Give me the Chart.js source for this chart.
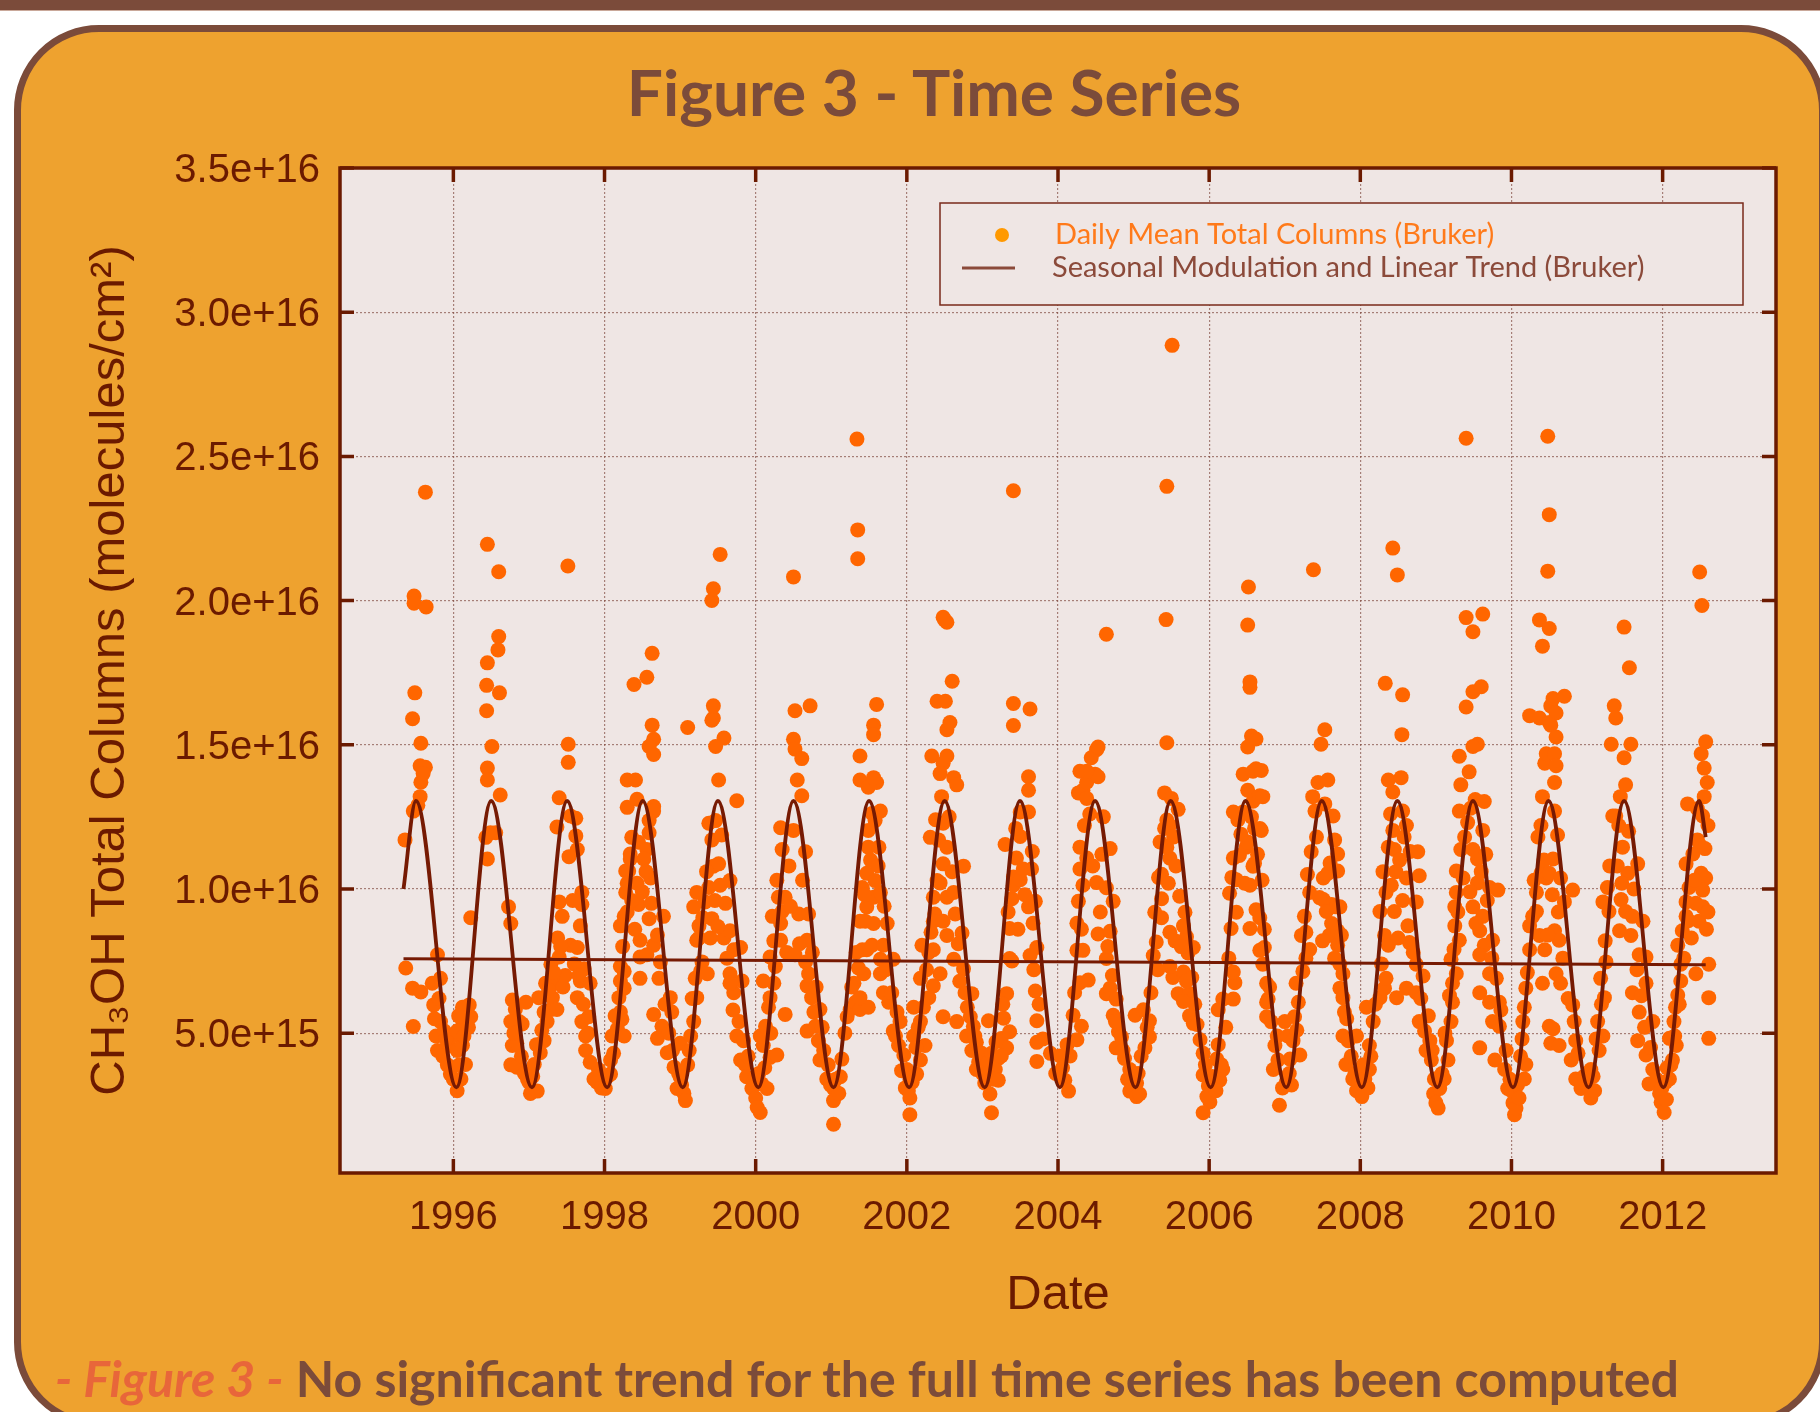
<!DOCTYPE html>
<html>
<head>
<meta charset="utf-8">
<script src="https://cdn.jsdelivr.net/npm/chart.js@4.4.0/dist/chart.umd.min.js"></script>
<style>
  html, body { margin: 0; padding: 0; width: 1820px; height: 1412px; overflow: hidden; background: #ffffff; }
  #topbar { position: absolute; left: 0; top: 0; width: 1820px; height: 10px; background: #7b4b3a; border-bottom: 1px solid #c9a89a; }
  #panel { position: absolute; left: 14px; top: 25px; width: 1812px; height: 1402px; box-sizing: border-box;
           border: 7px solid #7b4b3a; border-radius: 85px; background: #eea22f; }
  #title { position: absolute; left: 0; top: 58px; width: 1868px; text-align: center; font-family: 'Lato', sans-serif;
           font-weight: bold; font-size: 64px; line-height: 68px; color: #7b4b3a; }
  #chart { position: absolute; left: 0; top: 0; }
  #caption { position: absolute; left: 55px; top: 1350px; white-space: nowrap; font-family: 'Lato', sans-serif;
             font-weight: bold; font-size: 50px; line-height: 56px; color: #7b4b3a; }
  #caption .fig { color: #e8663a; font-style: italic; }
</style>
</head>
<body>
<div id="topbar"></div>
<div id="panel"></div>
<div id="title">Figure 3 - Time Series</div>
<canvas id="chart" width="1820" height="1412"></canvas>
<div id="caption"><span class="fig">- Figure 3 -</span> No significant trend for the full time series has been computed</div>
<script>
// daily means, [decimal year, total column in 1e15 molecules/cm2]
const season1995 = [[1995.36,11.7],[1995.37,7.26],[1995.46,6.56],[1995.57,6.43],[1995.47,5.23],[1995.63,23.76],[1995.48,20.16],[1995.48,19.91],[1995.64,19.78],[1995.49,16.8],[1995.46,15.9],[1995.57,15.05],[1995.56,14.27],[1995.63,14.22],[1995.57,13.7],[1995.56,13.2],[1995.47,12.7],[1995.53,12.9],[1995.6,14.0],[1995.79,7.72],[1995.72,6.73],[1995.83,6.9],[1995.74,5.98],[1995.83,5.4],[1995.77,4.9],[1995.79,4.4],[1995.88,5.07],[1995.94,4.57],[1995.92,3.9],[1995.96,3.58],[1995.99,4.9],[1995.75,5.5],[1995.81,6.2],[1995.86,4.2],[1995.9,4.8]];
const season1996 = [[1996.05,3.0],[1996.1,3.41],[1996.16,3.91],[1996.12,5.9],[1996.21,5.98],[1996.23,5.57],[1996.12,5.24],[1996.18,5.4],[1996.05,5.07],[1996.05,4.4],[1996.12,4.57],[1996.23,9.0],[1996.45,21.95],[1996.6,21.0],[1996.6,18.75],[1996.59,18.29],[1996.45,17.84],[1996.44,17.06],[1996.61,16.8],[1996.44,16.18],[1996.51,14.94],[1996.45,14.19],[1996.45,13.78],[1996.62,13.26],[1996.49,11.95],[1996.43,11.79],[1996.56,11.95],[1996.45,11.04],[1996.73,9.38],[1996.76,8.8],[1996.78,6.15],[1996.82,5.82],[1996.96,6.07],[1996.87,5.4],[1996.76,5.4],[1996.91,5.32],[1996.78,4.57],[1996.84,4.65],[1996.76,3.9],[1996.84,3.82],[1996.98,3.41],[1996.0,3.4],[1996.08,3.9],[1996.14,4.9],[1996.2,5.2],[1996.07,5.6],[1996.8,5.0],[1996.9,4.2],[1996.94,3.6]];
const season1997 = [[1997.02,2.91],[1997.11,2.99],[1997.07,3.91],[1997.15,4.32],[1997.2,4.74],[1997.13,6.23],[1997.2,5.73],[1997.29,5.82],[1997.24,5.4],[1997.22,6.73],[1997.515,21.2],[1997.52,15.02],[1997.52,14.39],[1997.4,13.16],[1997.37,12.15],[1997.55,12.53],[1997.62,12.45],[1997.62,11.84],[1997.64,11.37],[1997.53,11.12],[1997.4,9.55],[1997.44,9.05],[1997.29,7.39],[1997.4,7.64],[1997.35,6.73],[1997.31,6.23],[1997.37,5.82],[1997.45,6.6],[1997.48,7.0],[1997.55,8.05],[1997.64,7.97],[1997.7,9.88],[1997.7,9.46],[1997.68,8.72],[1997.73,7.23],[1997.68,6.81],[1997.81,6.73],[1997.64,6.23],[1997.7,5.4],[1997.79,5.57],[1997.75,4.9],[1997.75,4.4],[1997.81,3.99],[1997.86,3.41],[1997.92,3.74],[1997.0,3.3],[1997.05,3.5],[1997.1,4.6],[1997.17,5.1],[1997.26,6.5],[1997.33,7.1],[1997.38,8.3],[1997.42,8.0],[1997.58,9.6],[1997.6,7.4],[1997.66,7.0],[1997.72,6.0],[1997.78,5.0],[1997.9,3.3],[1997.96,3.1]];
const season1998 = [[1998.01,3.08],[1998.08,3.58],[1998.08,4.07],[1998.1,4.9],[1998.17,5.15],[1998.21,5.73],[1998.19,6.23],[1998.26,7.14],[1998.21,8.72],[1998.26,9.05],[1998.28,9.88],[1998.28,10.62],[1998.34,11.21],[1998.32,10.62],[1998.39,17.09],[1998.56,17.34],[1998.63,18.17],[1998.63,15.68],[1998.65,15.19],[1998.59,14.94],[1998.65,14.66],[1998.3,13.78],[1998.41,13.78],[1998.3,12.83],[1998.43,13.11],[1998.65,12.86],[1998.65,12.7],[1998.59,12.37],[1998.59,11.95],[1998.36,11.79],[1998.45,11.62],[1998.56,11.37],[1998.34,11.04],[1998.52,11.04],[1998.3,10.2],[1998.43,10.2],[1998.61,10.38],[1998.45,9.46],[1998.59,8.97],[1998.78,9.05],[1998.47,8.22],[1998.65,8.05],[1998.47,7.64],[1998.56,7.72],[1998.74,7.47],[1998.47,6.9],[1998.21,7.31],[1998.21,6.81],[1998.26,6.56],[1998.26,4.9],[1998.23,5.48],[1998.65,5.65],[1998.7,4.82],[1998.76,5.24],[1998.87,6.23],[1998.89,5.73],[1998.83,4.32],[1998.92,3.82],[1998.96,3.08],[1998.04,3.5],[1998.12,4.3],[1998.14,5.6],[1998.24,8.0],[1998.3,9.2],[1998.36,9.6],[1998.4,8.6],[1998.5,9.9],[1998.55,10.6],[1998.62,9.5],[1998.7,8.4],[1998.72,6.9],[1998.8,6.0],[1998.85,5.0],[1998.9,4.4],[1998.98,3.6]];
const season1999 = [[1999.05,2.91],[1999.0,3.49],[1999.0,4.65],[1999.07,2.66],[1999.14,4.9],[1999.18,5.4],[1999.1,15.6],[1999.22,6.23],[1999.2,6.9],[1999.27,7.14],[1999.22,8.22],[1999.25,8.72],[1999.18,9.38],[1999.22,9.88],[1999.42,20.0],[1999.44,20.41],[1999.53,21.6],[1999.44,16.35],[1999.44,15.93],[1999.42,15.85],[1999.58,15.23],[1999.47,14.94],[1999.51,13.78],[1999.75,13.06],[1999.38,12.28],[1999.47,12.37],[1999.42,11.7],[1999.55,11.87],[1999.44,10.79],[1999.51,10.87],[1999.38,10.05],[1999.53,10.13],[1999.66,10.29],[1999.33,9.55],[1999.42,8.97],[1999.25,8.3],[1999.4,8.3],[1999.58,8.3],[1999.66,8.55],[1999.71,7.89],[1999.8,7.97],[1999.29,7.47],[1999.36,7.06],[1999.66,7.06],[1999.71,6.4],[1999.66,6.73],[1999.82,6.81],[1999.75,4.9],[1999.84,4.74],[1999.8,4.07],[1999.86,3.91],[1999.88,3.49],[1999.95,3.08],[1999.02,3.2],[1999.1,3.9],[1999.12,4.4],[1999.16,6.2],[1999.3,9.0],[1999.35,10.6],[1999.46,9.6],[1999.5,8.7],[1999.6,9.5],[1999.62,7.6],[1999.7,5.8],[1999.78,5.4],[1999.9,4.2],[1999.98,3.4]];
const season2000 = [[2000.0,2.75],[2000.06,2.25],[2000.02,2.42],[2000.08,3.24],[2000.15,3.08],[2000.19,4.16],[2000.1,4.57],[2000.28,4.24],[2000.06,4.9],[2000.13,5.24],[2000.17,5.9],[2000.19,6.23],[2000.24,6.73],[2000.1,6.81],[2000.39,5.65],[2000.19,7.64],[2000.26,7.31],[2000.22,9.05],[2000.3,9.71],[2000.33,8.8],[2000.35,9.22],[2000.39,9.71],[2000.33,8.22],[2000.41,7.8],[2000.33,12.12],[2000.35,11.37],[2000.5,20.82],[2000.52,16.18],[2000.72,16.35],[2000.5,15.19],[2000.52,14.85],[2000.61,14.52],[2000.55,13.78],[2000.61,13.23],[2000.5,12.03],[2000.66,11.29],[2000.57,9.13],[2000.7,9.13],[2000.68,8.22],[2000.52,7.72],[2000.66,7.47],[2000.7,7.06],[2000.68,6.64],[2000.74,6.23],[2000.77,5.73],[2000.85,5.82],[2000.68,5.07],[2000.79,5.24],[2000.83,4.74],[2000.85,4.07],[2000.9,4.4],[2000.94,3.41],[2000.04,3.6],[2000.12,3.8],[2000.2,5.0],[2000.24,8.2],[2000.28,10.3],[2000.44,10.8],[2000.46,9.4],[2000.58,8.1],[2000.62,10.3],[2000.75,7.8],[2000.8,6.6],[2000.88,5.2],[2000.96,3.9],[2000.99,3.2]];
const season2001 = [[2001.03,3.08],[2001.03,2.66],[2001.03,1.84],[2001.1,2.91],[2001.12,3.49],[2001.21,5.57],[2001.25,5.82],[2001.32,6.07],[2001.38,5.82],[2001.49,5.9],[2001.38,6.23],[2001.43,7.06],[2001.3,6.73],[2001.36,7.26],[2001.41,7.89],[2001.47,7.89],[2001.54,8.05],[2001.38,8.88],[2001.45,8.88],[2001.56,8.8],[2001.41,10.05],[2001.47,9.38],[2001.56,9.71],[2001.47,10.54],[2001.58,10.29],[2001.49,11.45],[2001.63,11.45],[2001.49,12.03],[2001.65,12.7],[2001.54,12.62],[2001.58,12.37],[2001.38,13.78],[2001.49,13.53],[2001.6,13.69],[2001.56,13.86],[2001.38,14.61],[2001.56,15.68],[2001.56,15.35],[2001.6,16.4],[2001.34,25.6],[2001.35,22.45],[2001.35,21.45],[2001.65,9.88],[2001.74,8.8],[2001.69,8.05],[2001.65,7.56],[2001.82,7.56],[2001.65,7.06],[2001.69,6.4],[2001.76,6.07],[2001.87,5.73],[2001.91,5.4],[2001.82,5.07],[2001.89,4.57],[2001.96,4.24],[2001.06,3.4],[2001.14,4.1],[2001.18,5.0],[2001.27,6.6],[2001.33,7.8],[2001.44,9.8],[2001.52,11.0],[2001.62,10.8],[2001.7,9.4],[2001.72,7.2],[2001.8,6.4],[2001.85,4.9],[2001.93,3.7],[2001.98,3.1]];
const season2002 = [[2002.0,3.74],[2002.04,3.41],[2002.04,2.75],[2002.04,2.17],[2002.02,3.0],[2002.13,3.58],[2002.18,4.07],[2002.24,4.57],[2002.09,4.9],[2002.18,5.4],[2002.09,5.9],[2002.22,5.9],[2002.2,8.05],[2002.29,7.8],[2002.35,7.89],[2002.18,6.9],[2002.29,6.23],[2002.35,6.64],[2002.35,9.71],[2002.37,9.13],[2002.44,10.21],[2002.31,11.79],[2002.48,12.28],[2002.48,10.87],[2002.42,11.7],[2002.53,11.45],[2002.33,14.61],[2002.48,14.36],[2002.53,14.61],[2002.44,14.0],[2002.62,13.86],[2002.66,13.61],[2002.4,16.51],[2002.51,16.51],[2002.53,15.52],[2002.57,15.77],[2002.6,17.2],[2002.48,19.42],[2002.53,19.25],[2002.5,19.33],[2002.4,10.29],[2002.53,9.71],[2002.62,9.88],[2002.75,10.79],[2002.35,8.88],[2002.48,8.88],[2002.64,9.13],[2002.53,8.39],[2002.73,8.47],[2002.62,7.56],[2002.75,7.23],[2002.44,7.06],[2002.48,5.57],[2002.66,5.4],[2002.77,6.4],[2002.84,5.57],[2002.79,4.9],[2002.86,4.4],[2002.92,3.74],[2002.86,6.37],[2002.88,5.24],[2002.92,4.68],[2002.99,4.3],[2002.07,3.3],[2002.12,4.5],[2002.15,5.2],[2002.26,7.2],[2002.32,8.5],[2002.38,12.4],[2002.46,13.2],[2002.56,12.5],[2002.6,10.6],[2002.68,8.1],[2002.7,6.8],[2002.8,5.9],[2002.9,4.9],[2002.95,4.0]];
const season2003 = [[2003.06,3.93],[2003.03,3.27],[2003.1,2.89],[2003.12,2.24],[2003.08,5.43],[2003.12,4.3],[2003.21,4.12],[2003.17,3.74],[2003.21,3.37],[2003.25,4.81],[2003.28,5.52],[2003.32,6.37],[2003.39,7.5],[2003.36,8.63],[2003.39,9.66],[2003.41,10.41],[2003.3,11.54],[2003.45,11.07],[2003.41,10.13],[2003.5,10.32],[2003.54,10.69],[2003.65,10.69],[2003.5,11.82],[2003.61,12.67],[2003.5,12.67],[2003.61,13.89],[2003.61,13.42],[2003.41,16.43],[2003.41,15.67],[2003.63,16.24],[2003.41,23.81],[2003.61,9.38],[2003.7,9.57],[2003.67,8.81],[2003.63,7.69],[2003.72,7.97],[2003.36,7.59],[2003.7,6.46],[2003.72,5.43],[2003.72,4.68],[2003.72,4.02],[2003.36,5.05],[2003.32,4.49],[2003.25,4.21],[2003.0,3.6],[2003.14,3.4],[2003.18,4.7],[2003.27,6.0],[2003.34,9.2],[2003.44,12.1],[2003.47,8.6],[2003.56,9.8],[2003.66,11.3],[2003.68,7.2],[2003.75,6.0],[2003.8,4.8],[2003.9,4.3],[2003.97,3.6]];
const season2004 = [[2004.03,4.21],[2004.09,3.37],[2004.14,2.99],[2004.16,4.21],[2004.25,4.77],[2004.31,5.24],[2004.2,5.62],[2004.29,6.75],[2004.4,6.84],[2004.25,7.87],[2004.33,7.87],[2004.25,8.81],[2004.27,9.57],[2004.33,10.13],[2004.29,10.69],[2004.38,11.07],[2004.29,11.45],[2004.33,13.42],[2004.29,14.08],[2004.27,13.33],[2004.38,13.7],[2004.38,13.14],[2004.49,13.98],[2004.53,13.89],[2004.38,14.08],[2004.44,14.55],[2004.51,14.83],[2004.53,14.92],[2004.64,18.83],[2004.51,10.22],[2004.64,10.04],[2004.73,9.57],[2004.58,11.2],[2004.69,11.4],[2004.53,8.44],[2004.69,8.53],[2004.64,7.59],[2004.64,6.37],[2004.69,6.56],[2004.77,6.18],[2004.73,5.62],[2004.8,5.05],[2004.77,4.49],[2004.84,4.87],[2004.88,4.12],[2004.95,3.74],[2004.95,2.99],[2004.06,3.8],[2004.12,4.6],[2004.22,6.4],[2004.31,8.6],[2004.35,12.2],[2004.42,12.6],[2004.46,10.8],[2004.56,9.2],[2004.6,12.5],[2004.66,8.0],[2004.72,7.0],[2004.76,5.4],[2004.86,4.4],[2004.92,3.4],[2004.99,3.1]];
const season2005 = [[2005.04,3.27],[2005.04,2.8],[2005.08,2.89],[2005.02,5.62],[2005.13,5.81],[2005.21,5.43],[2005.15,4.49],[2005.21,4.87],[2005.26,7.69],[2005.3,8.16],[2005.28,9.19],[2005.37,9.66],[2005.37,10.51],[2005.48,11.07],[2005.44,11.45],[2005.35,11.63],[2005.41,12.1],[2005.48,12.2],[2005.44,12.39],[2005.59,12.76],[2005.41,13.33],[2005.5,13.14],[2005.44,15.07],[2005.43,19.34],[2005.44,23.96],[2005.51,28.85],[2005.61,9.75],[2005.68,9.19],[2005.7,8.34],[2005.72,7.78],[2005.79,7.97],[2005.66,8.72],[2005.52,6.93],[2005.66,7.12],[2005.77,6.93],[2005.48,7.31],[2005.59,6.37],[2005.74,6.37],[2005.81,6.0],[2005.66,6.1],[2005.74,5.6],[2005.79,5.34],[2005.88,4.77],[2005.92,4.3],[2005.92,3.55],[2005.99,3.17],[2006.01,2.61],[2005.92,2.24],[2005.37,9.0],[2005.48,8.5],[2005.55,8.2],[2005.06,3.6],[2005.1,4.2],[2005.18,5.2],[2005.23,6.4],[2005.32,7.2],[2005.33,10.4],[2005.46,10.2],[2005.53,11.8],[2005.56,10.8],[2005.63,8.0],[2005.7,6.8],[2005.84,5.3],[2005.95,3.9],[2005.97,2.8]];
const season2006 = [[2006.07,3.08],[2006.14,3.37],[2006.18,3.74],[2006.1,4.1],[2006.16,3.9],[2006.18,6.18],[2006.12,5.81],[2006.32,6.18],[2006.34,6.75],[2006.32,7.12],[2006.29,8.63],[2006.36,9.19],[2006.27,9.85],[2006.36,10.32],[2006.32,11.07],[2006.4,11.16],[2006.49,11.45],[2006.38,12.39],[2006.45,12.67],[2006.32,12.67],[2006.51,13.42],[2006.58,13.04],[2006.67,13.23],[2006.45,13.98],[2006.58,14.08],[2006.62,14.17],[2006.56,15.3],[2006.51,14.92],[2006.62,15.2],[2006.54,16.99],[2006.54,17.18],[2006.51,19.15],[2006.52,20.47],[2006.6,12.1],[2006.67,12.1],[2006.6,10.88],[2006.51,11.63],[2006.58,10.79],[2006.54,10.13],[2006.62,9.28],[2006.67,9.0],[2006.54,8.63],[2006.67,7.87],[2006.73,7.97],[2006.78,6.18],[2006.69,14.11],[2006.71,13.2],[2006.69,12.03],[2006.71,7.39],[2006.76,6.73],[2006.76,6.07],[2006.76,5.57],[2006.82,5.4],[2006.87,4.57],[2006.85,3.74],[2006.93,2.5],[2006.91,4.07],[2006.04,3.5],[2006.09,3.0],[2006.12,4.6],[2006.22,5.2],[2006.26,7.6],[2006.3,10.4],[2006.42,11.9],[2006.47,10.2],[2006.56,12.5],[2006.64,11.2],[2006.7,10.3],[2006.73,8.6],[2006.8,6.6],[2006.9,4.9],[2006.97,3.1]];
const season2007 = [[2007.0,5.4],[2007.04,4.9],[2007.13,5.57],[2007.11,4.74],[2007.2,4.24],[2007.02,3.3],[2007.06,3.6],[2007.09,3.2],[2007.18,6.07],[2007.15,6.73],[2007.24,7.14],[2007.22,8.39],[2007.26,9.05],[2007.33,9.88],[2007.28,8.5],[2007.33,7.9],[2007.35,11.29],[2007.4,12.7],[2007.37,13.2],[2007.44,13.69],[2007.48,15.02],[2007.53,15.52],[2007.57,13.78],[2007.53,12.95],[2007.38,21.07],[2007.51,10.38],[2007.57,10.54],[2007.51,9.63],[2007.62,9.46],[2007.68,9.38],[2007.73,9.38],[2007.55,9.22],[2007.62,8.8],[2007.59,8.39],[2007.7,8.55],[2007.7,8.05],[2007.73,7.39],[2007.77,7.06],[2007.64,12.53],[2007.66,11.7],[2007.7,11.21],[2007.7,10.62],[2007.73,6.56],[2007.77,6.23],[2007.79,5.73],[2007.77,4.9],[2007.84,4.74],[2007.95,4.9],[2007.81,3.91],[2007.9,3.41],[2007.95,3.0],[2007.98,3.3],[2007.07,4.1],[2007.16,5.1],[2007.28,7.6],[2007.3,10.5],[2007.42,11.8],[2007.46,9.7],[2007.5,8.2],[2007.6,10.9],[2007.66,7.6],[2007.75,8.4],[2007.82,5.5],[2007.88,4.2],[2007.93,3.6]];
const season2008 = [[2008.01,3.08],[2008.06,3.41],[2008.12,3.74],[2008.02,2.8],[2008.1,3.1],[2008.08,5.9],[2008.12,4.57],[2008.17,5.4],[2008.26,6.23],[2008.32,6.56],[2008.34,6.9],[2008.26,9.22],[2008.32,8.39],[2008.37,8.05],[2008.34,9.88],[2008.41,10.13],[2008.45,9.22],[2008.37,11.45],[2008.45,11.37],[2008.43,12.03],[2008.37,13.78],[2008.43,13.36],[2008.54,13.86],[2008.33,17.13],[2008.56,16.73],[2008.55,15.35],[2008.43,21.82],[2008.49,20.89],[2008.56,12.7],[2008.61,12.2],[2008.76,11.29],[2008.78,10.46],[2008.61,10.38],[2008.74,9.55],[2008.63,8.72],[2008.65,8.14],[2008.74,7.39],[2008.83,6.98],[2008.61,6.56],[2008.74,6.4],[2008.48,6.23],[2008.52,11.0],[2008.58,11.8],[2008.47,10.6],[2008.78,5.4],[2008.85,5.07],[2008.92,4.74],[2008.87,4.4],[2008.94,4.07],[2008.98,3.41],[2008.97,2.9],[2008.04,3.9],[2008.14,4.2],[2008.2,6.0],[2008.28,7.4],[2008.3,10.6],[2008.4,12.6],[2008.5,8.3],[2008.56,9.6],[2008.66,11.3],[2008.7,7.8],[2008.8,6.2],[2008.9,5.6],[2008.95,4.4]];
const season2009 = [[2009.0,2.58],[2009.03,2.4],[2009.05,3.08],[2009.11,3.41],[2009.16,4.07],[2009.14,4.74],[2009.2,5.4],[2009.22,6.07],[2009.22,6.73],[2009.27,7.06],[2009.2,7.56],[2009.25,8.72],[2009.31,8.22],[2009.25,9.38],[2009.27,9.88],[2009.36,10.38],[2009.27,10.62],[2009.33,11.37],[2009.31,12.7],[2009.31,14.6],[2009.33,13.61],[2009.44,14.06],[2009.4,16.31],[2009.49,16.84],[2009.6,17.01],[2009.55,15.02],[2009.49,14.94],[2009.4,19.41],[2009.49,18.92],[2009.62,19.53],[2009.4,25.63],[2009.49,11.37],[2009.55,11.04],[2009.62,12.03],[2009.55,10.21],[2009.49,9.38],[2009.62,9.05],[2009.64,13.03],[2009.71,10.05],[2009.82,9.96],[2009.58,8.55],[2009.64,8.05],[2009.58,7.72],[2009.75,8.22],[2009.71,7.06],[2009.8,6.9],[2009.58,6.4],[2009.71,6.07],[2009.84,6.07],[2009.58,4.49],[2009.75,5.4],[2009.84,5.24],[2009.78,4.07],[2009.91,3.74],[2009.95,3.08],[2009.42,12.3],[2009.52,13.1],[2009.45,9.9],[2009.66,11.2],[2009.08,3.6],[2009.12,5.0],[2009.18,6.3],[2009.24,7.9],[2009.29,9.2],[2009.38,11.8],[2009.46,12.8],[2009.53,8.8],[2009.6,10.6],[2009.68,9.6],[2009.74,7.6],[2009.86,5.8],[2009.93,4.4],[2009.98,3.4]];
const season2010 = [[2010.02,2.58],[2010.04,2.17],[2010.06,2.4],[2010.0,3.0],[2010.08,3.2],[2010.1,2.75],[2010.17,3.41],[2010.19,3.91],[2010.15,5.4],[2010.17,5.9],[2010.19,6.56],[2010.24,7.89],[2010.24,8.72],[2010.28,9.05],[2010.33,9.22],[2010.37,8.39],[2010.44,7.89],[2010.33,9.88],[2010.39,10.54],[2010.46,10.38],[2010.5,10.54],[2010.39,12.2],[2010.41,13.2],[2010.44,14.36],[2010.46,14.69],[2010.24,16.01],[2010.37,15.93],[2010.5,15.77],[2010.52,16.35],[2010.55,16.6],[2010.37,19.33],[2010.5,19.03],[2010.41,18.42],[2010.48,25.7],[2010.5,22.98],[2010.48,21.02],[2010.7,16.68],[2010.59,16.1],[2010.52,15.68],[2010.59,15.27],[2010.57,14.69],[2010.59,14.27],[2010.57,13.69],[2010.57,12.7],[2010.61,11.87],[2010.55,11.04],[2010.65,10.38],[2010.7,9.55],[2010.81,9.96],[2010.57,8.55],[2010.63,8.22],[2010.59,7.06],[2010.65,6.73],[2010.41,6.73],[2010.5,5.24],[2010.52,4.65],[2010.55,5.15],[2010.63,4.57],[2010.81,5.98],[2010.83,5.4],[2010.85,4.74],[2010.79,4.07],[2010.85,3.41],[2010.92,3.08],[2010.12,4.2],[2010.14,4.8],[2010.21,7.1],[2010.3,10.3],[2010.35,11.8],[2010.43,11.0],[2010.48,8.4],[2010.54,9.8],[2010.62,9.2],[2010.68,7.6],[2010.75,6.2],[2010.88,4.3],[2010.96,3.5]];
const season2011 = [[2011.0,3.2],[2011.05,2.75],[2011.1,3.0],[2011.05,3.74],[2011.16,4.4],[2011.21,4.9],[2011.14,5.4],[2011.23,6.23],[2011.18,6.9],[2011.25,7.47],[2011.21,9.55],[2011.29,9.22],[2011.27,10.05],[2011.34,12.53],[2011.38,12.53],[2011.36,16.35],[2011.38,15.93],[2011.32,15.02],[2011.49,14.55],[2011.51,13.61],[2011.49,19.08],[2011.56,17.67],[2011.47,11.45],[2011.54,10.54],[2011.67,10.87],[2011.58,15.02],[2011.45,9.63],[2011.51,9.22],[2011.6,9.05],[2011.43,8.55],[2011.58,8.39],[2011.74,8.88],[2011.69,7.72],[2011.78,7.64],[2011.6,6.4],[2011.69,5.73],[2011.87,5.4],[2011.78,6.73],[2011.67,4.74],[2011.78,4.24],[2011.87,3.74],[2011.82,3.24],[2011.96,2.91],[2011.4,10.8],[2011.44,13.2],[2011.08,3.5],[2011.12,4.8],[2011.19,6.0],[2011.24,8.2],[2011.3,10.8],[2011.42,12.2],[2011.46,10.2],[2011.55,12.0],[2011.62,10.0],[2011.66,7.2],[2011.72,6.3],[2011.76,5.2],[2011.84,4.5],[2011.92,3.4],[2011.98,2.6]];
const season2012 = [[2012.02,2.25],[2012.05,2.7],[2011.99,3.1],[2012.06,3.8],[2012.09,3.41],[2012.13,4.07],[2012.18,4.57],[2012.09,4.82],[2012.15,5.4],[2012.17,5.9],[2012.2,6.32],[2012.24,6.81],[2012.24,7.39],[2012.2,8.05],[2012.26,8.55],[2012.31,9.05],[2012.31,9.55],[2012.35,10.05],[2012.31,10.87],[2012.4,11.21],[2012.46,11.7],[2012.33,12.95],[2012.46,12.78],[2012.53,12.53],[2012.51,14.69],[2012.55,14.19],[2012.59,13.69],[2012.55,13.2],[2012.57,15.1],[2012.51,10.54],[2012.57,10.38],[2012.53,9.96],[2012.53,9.38],[2012.48,8.88],[2012.61,7.39],[2012.44,7.06],[2012.61,6.23],[2012.61,4.82],[2012.49,20.99],[2012.52,19.83],[2012.38,8.3],[2012.44,9.5],[2012.04,3.3],[2012.11,3.9],[2012.16,4.9],[2012.22,6.0],[2012.28,7.6],[2012.34,8.9],[2012.42,10.3],[2012.5,11.5],[2012.56,11.4],[2012.58,8.6],[2012.6,9.2],[2012.6,12.2]];

// fitted seasonal curve: read maxima / minima of the plotted fit (1e15 molecules/cm2)
const fitYears = [1995.34, 1995.505, 1996.04, 1996.50, 1997.04, 1997.505, 1998.035, 1998.505, 1999.035, 1999.50,
  2000.035, 2000.50, 2001.03, 2001.50, 2002.03, 2002.50, 2003.03, 2003.497, 2004.025, 2004.49, 2005.025, 2005.49,
  2006.02, 2006.48, 2007.02, 2007.49, 2008.02, 2008.49, 2009.02, 2009.49, 2010.02, 2010.49, 2011.02, 2011.49,
  2012.01, 2012.483, 2012.57];
const fitValues = [10.0, 13.05, 3.12, 13.05, 3.12, 13.05, 3.12, 13.05, 3.12, 13.05,
  3.12, 13.05, 3.12, 13.05, 3.12, 13.05, 3.12, 13.05, 3.12, 13.05, 3.12, 13.05,
  3.12, 13.05, 3.12, 13.05, 3.12, 13.05, 3.12, 13.05, 3.12, 13.05, 3.12, 13.05,
  3.12, 13.05, 11.8];
// linear trend, start and end
const trendYears = [1995.34, 2012.57];
const trendValues = [7.58, 7.37];

const xTickYears = [1996, 1998, 2000, 2002, 2004, 2006, 2008, 2010, 2012];
const yTickValues = [5e15, 1e16, 1.5e16, 2e16, 2.5e16, 3e16, 3.5e16];

const UNIT = 1e15;
const seasons = [season1995, season1996, season1997, season1998, season1999, season2000, season2001, season2002,
  season2003, season2004, season2005, season2006, season2007, season2008, season2009, season2010, season2011, season2012];
const dailyPoints = seasons.flat().map(p => ({ x: p[0], y: p[1] * UNIT }));
const fitPoints = fitYears.map((x, i) => ({ x: x, y: fitValues[i] * UNIT }));
const trendPoints = trendYears.map((x, i) => ({ x: x, y: trendValues[i] * UNIT }));

const axisColor = '#6b1a00';
const plotBg = '#efe6e4';
const axisFont = "'Liberation Sans', Arial, sans-serif";

const framePlugin = {
  id: 'frame',
  beforeDraw(chart) {
    const { ctx, chartArea: a } = chart;
    ctx.save();
    ctx.fillStyle = plotBg;
    ctx.fillRect(a.left, a.top, a.right - a.left, a.bottom - a.top);
    ctx.restore();
  },
  afterDraw(chart) {
    const { ctx, chartArea: a, scales } = chart;
    ctx.save();
    // legend box
    const lx = 940, ly = 203, lw = 803, lh = 102;
    ctx.fillStyle = plotBg;
    ctx.fillRect(lx, ly, lw, lh);
    ctx.strokeStyle = '#7a2a1a';
    ctx.lineWidth = 1.5;
    ctx.strokeRect(lx, ly, lw, lh);
    const ds = chart.data.datasets;
    ctx.font = '29px Lato, sans-serif';
    ctx.textBaseline = 'middle';
    ctx.textAlign = 'left';
    ctx.fillStyle = '#ff9900';
    ctx.beginPath();
    ctx.arc(1002, 235, 7, 0, Math.PI * 2);
    ctx.fill();
    ctx.fillStyle = '#ff7a1a';
    ctx.fillText(ds[2].label, 1055, 235);
    ctx.strokeStyle = '#8b4a3a';
    ctx.lineWidth = 3;
    ctx.beginPath();
    ctx.moveTo(962, 268);
    ctx.lineTo(1015, 268);
    ctx.stroke();
    ctx.fillStyle = '#8b4a3a';
    ctx.fillText(ds[0].label, 1052, 268);

    // frame and inward ticks
    ctx.strokeStyle = axisColor;
    ctx.lineWidth = 3.5;
    ctx.strokeRect(a.left, a.top, a.right - a.left, a.bottom - a.top);
    const t = 14;
    ctx.beginPath();
    xTickYears.forEach(v => {
      const px = scales.x.getPixelForValue(v);
      ctx.moveTo(px, a.bottom); ctx.lineTo(px, a.bottom - t);
      ctx.moveTo(px, a.top); ctx.lineTo(px, a.top + t);
    });
    yTickValues.forEach(v => {
      const py = scales.y.getPixelForValue(v);
      ctx.moveTo(a.left, py); ctx.lineTo(a.left + t, py);
      ctx.moveTo(a.right, py); ctx.lineTo(a.right - t, py);
    });
    ctx.stroke();
    ctx.restore();
  }
};

const gridOpts = { color: 'rgba(125,70,60,0.65)', lineWidth: 1.2, drawTicks: false };

new Chart(document.getElementById('chart'), {
  type: 'scatter',
  data: {
    datasets: [
      {
        type: 'line',
        label: 'Seasonal Modulation and Linear Trend (Bruker)',
        data: fitPoints,
        borderColor: '#761a03',
        borderWidth: 3.8,
        pointRadius: 0,
        fill: false,
        cubicInterpolationMode: 'monotone',
        order: 1
      },
      {
        type: 'line',
        label: 'Linear Trend',
        data: trendPoints,
        borderColor: '#761a03',
        borderWidth: 3,
        pointRadius: 0,
        fill: false,
        order: 1
      },
      {
        label: 'Daily Mean Total Columns (Bruker)',
        data: dailyPoints,
        backgroundColor: '#ff6600',
        borderWidth: 0,
        pointRadius: 7.5,
        pointHoverRadius: 7.5,
        order: 2
      }
    ]
  },
  options: {
    responsive: false,
    animation: false,
    devicePixelRatio: 1,
    events: [],
    layout: { padding: { top: 168, right: 44, left: 0, bottom: 0 } },
    plugins: { legend: { display: false }, tooltip: { enabled: false }, title: { display: false } },
    scales: {
      x: {
        type: 'linear',
        min: 1994.5,
        max: 2013.5,
        afterBuildTicks: axis => { axis.ticks = xTickYears.map(v => ({ value: v })); },
        afterFit: axis => { axis.height = 239; },
        ticks: {
          callback: v => String(v),
          color: axisColor,
          padding: 21,
          maxRotation: 0,
          font: { family: axisFont, size: 40 }
        },
        grid: gridOpts,
        border: { display: false, dash: [2, 2] },
        title: {
          display: true,
          text: 'Date',
          color: axisColor,
          font: { family: axisFont, size: 49 },
          padding: { top: 0, bottom: 87 }
        }
      },
      y: {
        type: 'linear',
        min: 1.5e14,
        max: 3.5e16,
        afterBuildTicks: axis => { axis.ticks = yTickValues.map(v => ({ value: v })); },
        afterFit: axis => { axis.width = 340; },
        ticks: {
          callback: v => v.toExponential(1),
          color: axisColor,
          padding: 20,
          labelOffset: 3,
          font: { family: axisFont, size: 40 }
        },
        grid: gridOpts,
        border: { display: false, dash: [2, 2] },
        title: {
          display: true,
          text: 'CH\u2083OH Total Columns (molecules/cm\u00b2)',
          color: axisColor,
          font: { family: axisFont, size: 49 },
          padding: { top: 81, bottom: 0 }
        }
      }
    }
  },
  plugins: [framePlugin]
});
</script>
</body>
</html>
